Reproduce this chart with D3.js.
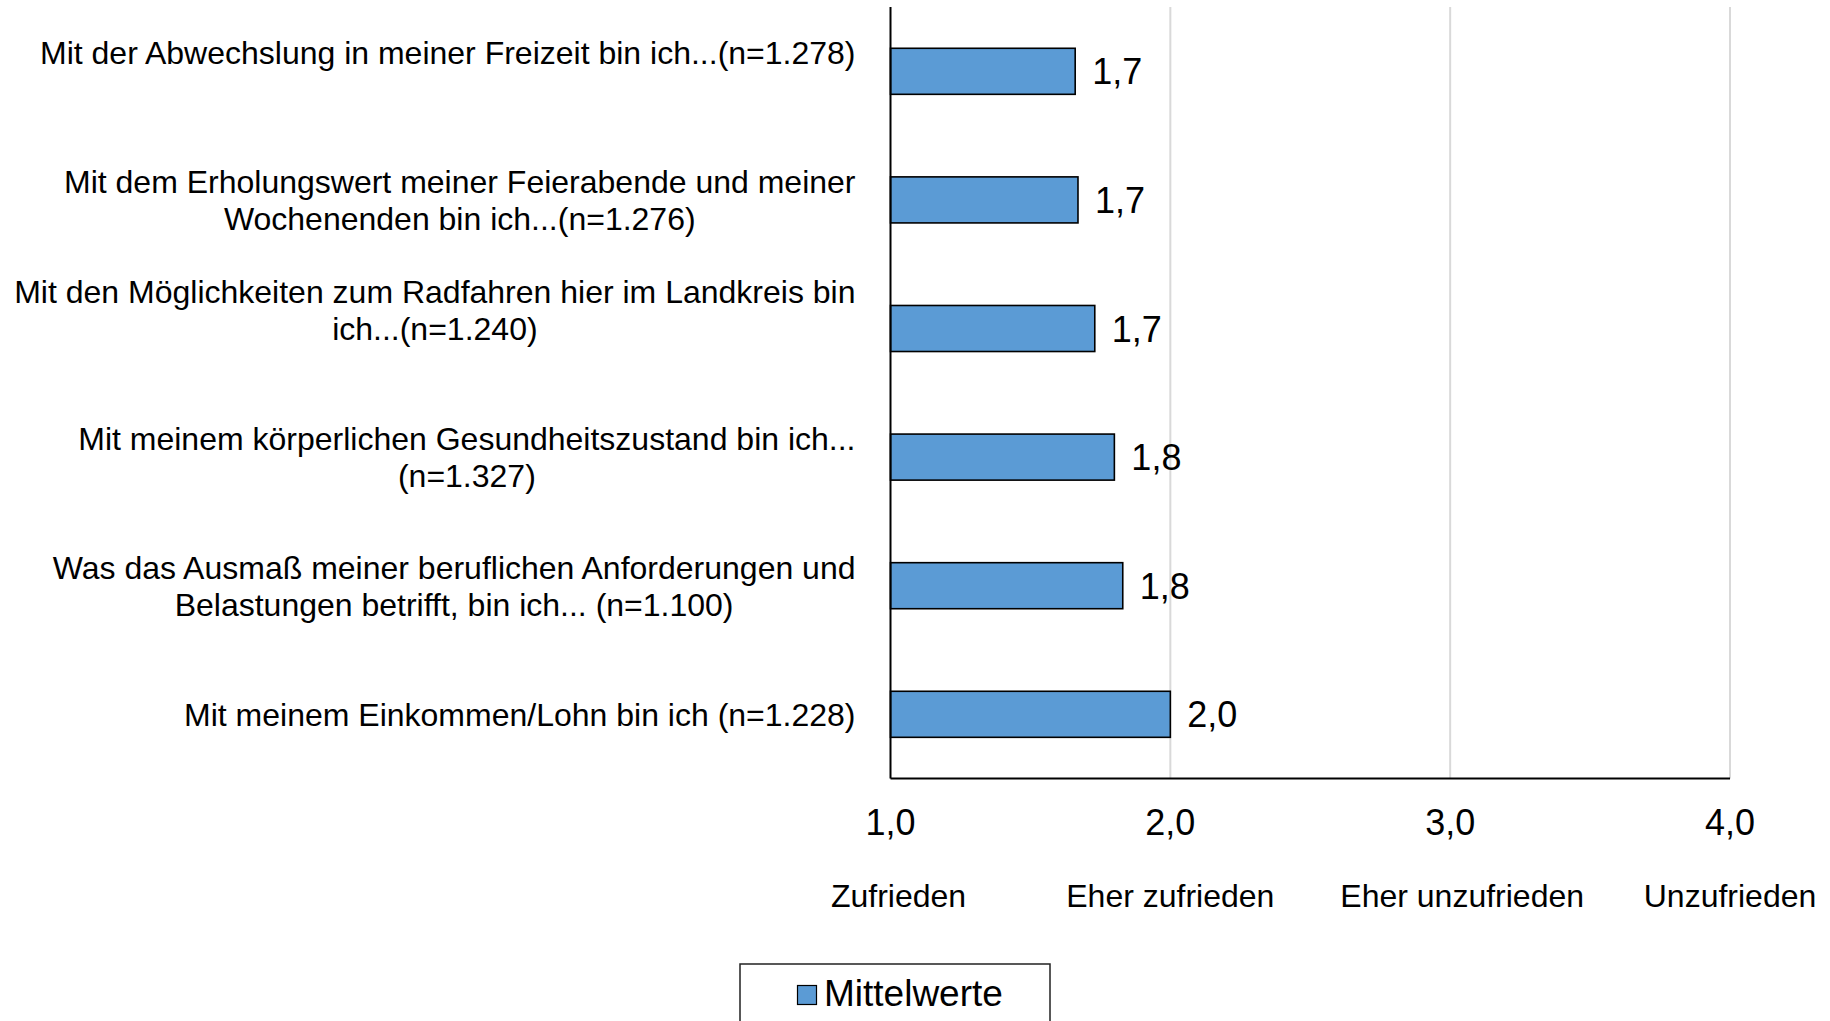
<!DOCTYPE html>
<html><head><meta charset="utf-8">
<script src="https://cdn.jsdelivr.net/npm/d3@7"></script>
<style>body{margin:0;background:#fff}svg{display:block;font-family:"Liberation Sans",Arial,sans-serif}</style>
</head><body>
<svg id="c" width="1830" height="1021"></svg>
<script>
const categories = [
  ["Mit der Abwechslung in meiner Freizeit bin ich...(n=1.278)", ""],
  ["Mit dem Erholungswert meiner Feierabende und meiner", "Wochenenden bin ich...(n=1.276)"],
  ["Mit den Möglichkeiten zum Radfahren hier im Landkreis bin", "ich...(n=1.240)", ""],
  ["Mit meinem körperlichen Gesundheitszustand bin ich...", "(n=1.327)"],
  ["Was das Ausmaß meiner beruflichen Anforderungen und", "Belastungen betrifft, bin ich... (n=1.100)"],
  ["Mit meinem Einkommen/Lohn bin ich (n=1.228)"]
];
const values = [1.66, 1.67, 1.73, 1.80, 1.83, 2.0];
const tickValues = [1, 2, 3, 4];
const tickNames = ["Zufrieden", "Eher zufrieden", "Eher unzufrieden", "Unzufrieden"];
const seriesName = "Mittelwerte";

(function () {
const svg = d3.select("#c");
const pLeft = 890.5, pRight = 1730, pTop = 7, pBottom = 778.6;
const nameDx = [8, 0, 12, 0];
const x = d3.scaleLinear().domain([1, 4]).range([pLeft, pRight]);
const y = d3.scaleBand().domain(d3.range(categories.length)).range([pTop, pBottom])
  .paddingInner(0.642).paddingOuter(0.321);
const fmt = v => d3.format(".1f")(v).replace(".", ",");
const blue = "#5B9BD5";

// gridlines
svg.append("g").selectAll("line").data(tickValues.slice(1)).join("line")
  .attr("x1", d => x(d)).attr("x2", d => x(d)).attr("y1", pTop).attr("y2", pBottom)
  .attr("stroke", "#d9d9d9").attr("stroke-width", 2);

// bars
svg.append("g").selectAll("rect").data(values).join("rect")
  .attr("x", x(1)).attr("y", (d, i) => y(i))
  .attr("width", d => x(d) - x(1)).attr("height", y.bandwidth())
  .attr("fill", blue).attr("stroke", "#000").attr("stroke-width", 1.6);

// value labels
svg.append("g").selectAll("text").data(values).join("text")
  .attr("x", d => x(d) + 17).attr("y", (d, i) => y(i) + y.bandwidth() / 2 + 13)
  .attr("font-size", 36).attr("fill", "#000").text(d => fmt(d));

// axes lines
svg.append("line").attr("x1", pLeft).attr("x2", pLeft).attr("y1", pTop).attr("y2", pBottom)
  .attr("stroke", "#000").attr("stroke-width", 2);
svg.append("line").attr("x1", pLeft).attr("x2", pRight).attr("y1", pBottom).attr("y2", pBottom)
  .attr("stroke", "#000").attr("stroke-width", 2);

// x tick labels
const tg = svg.append("g");
tg.selectAll("text.t").data(tickValues).join("text").attr("class", "t")
  .attr("x", d => x(d)).attr("y", 835).attr("text-anchor", "middle")
  .attr("font-size", 36).text(d => fmt(d));
tg.selectAll("text.n").data(tickValues).join("text").attr("class", "n")
  .attr("x", (d, i) => x(d) + nameDx[i]).attr("y", 907).attr("text-anchor", "middle")
  .attr("font-size", 32).text((d, i) => tickNames[i]);

// category labels
const labelRight = 855.5, lh = 37.3;
categories.forEach((lines, i) => {
  const g = svg.append("g");
  const cy = y(i) + y.bandwidth() / 2;
  const texts = lines.map((l, j) => g.append("text").attr("font-size", 32)
    .attr("text-anchor", "middle").text(l));
  const w = d3.max(texts, t => t.node().getComputedTextLength());
  const n = lines.length;
  texts.forEach((t, j) => {
    t.attr("x", labelRight - w / 2)
     .attr("y", cy + (j - (n - 1) / 2) * lh + 11.5);
  });
});

// legend
svg.append("rect").attr("x", 740).attr("y", 964).attr("width", 310).attr("height", 80)
  .attr("fill", "#fff").attr("stroke", "#222").attr("stroke-width", 1.5);
svg.append("rect").attr("x", 797.5).attr("y", 985.5).attr("width", 19).attr("height", 19)
  .attr("fill", blue).attr("stroke", "#000").attr("stroke-width", 1.2);
svg.append("text").attr("x", 824).attr("y", 1006).attr("font-size", 37).text(seriesName);
})();
</script>
</body></html>
